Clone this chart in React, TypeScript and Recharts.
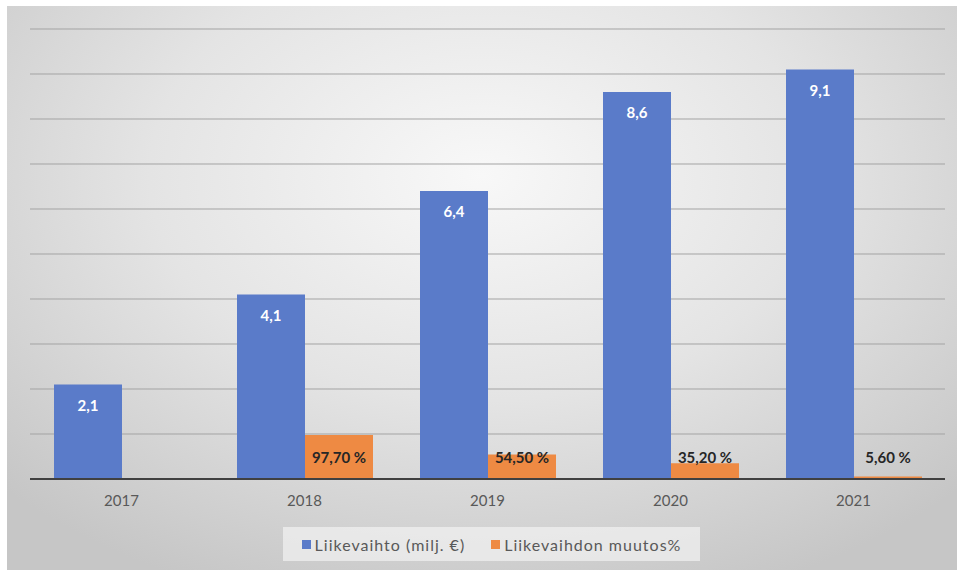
import { BarChart, Bar, XAxis, YAxis, CartesianGrid, LabelList } from 'recharts';

const years = ['2017', '2018', '2019', '2020', '2021'];
const revenue = [2.1, 4.1, 6.4, 8.6, 9.1];
const change = [null, 0.977, 0.545, 0.352, 0.056];
const yTicks = [0, 1, 2, 3, 4, 5, 6, 7, 8, 9, 10];

const data = years.map((year, i) => ({ year, revenue: revenue[i], change: change[i] }));

const FONT = 'Lato, "Open Sans", sans-serif';
const BLUE = '#5A7BC9';
const ORANGE = '#EE8A43';

const fmtRevenue = (v: number) => v.toFixed(1).replace('.', ',');
const fmtChange = (v: number) => (v * 100).toFixed(2).replace('.', ',') + ' %';

const RevenueLabel = (props: any) => {
  const { x, y, width, value } = props;
  if (value == null) return null;
  return (
    <text x={x + width / 2} y={y + 20} textAnchor="middle" dominantBaseline="central" fill="#ffffff" fontFamily={FONT} fontWeight={700} fontSize={15}>
      {fmtRevenue(value)}
    </text>
  );
};

const ChangeLabel = (props: any) => {
  const { x, y, width, height, value } = props;
  if (value == null) return null;
  return (
    <text x={x + width / 2} y={y + height - 22} textAnchor="middle" dominantBaseline="central" fill="#262626" fontFamily={FONT} fontWeight={700} fontSize={15}>
      {fmtChange(value)}
    </text>
  );
};

const LegendBox = () => (
  <div
    style={{
      position: 'absolute',
      left: 283,
      top: 527,
      width: 417,
      height: 34,
      background: 'rgba(242,242,242,0.7)',
      display: 'flex',
      alignItems: 'center',
      justifyContent: 'center',
      gap: 26,
      fontFamily: FONT,
      fontSize: 16,
      letterSpacing: 1,
      color: '#595959',
    }}
  >
    <span style={{ display: 'flex', alignItems: 'center' }}>
      <span style={{ width: 9, height: 9, background: BLUE, marginRight: 4 }} />
      Liikevaihto (milj. €)
    </span>
    <span style={{ display: 'flex', alignItems: 'center' }}>
      <span style={{ width: 9, height: 9, background: ORANGE, marginRight: 4 }} />
      Liikevaihdon muutos%
    </span>
  </div>
);

export default function App() {
  return (
    <div style={{ position: 'absolute', left: 0, top: 0, width: 957, height: 570, background: '#ffffff' }}>
      <div
        style={{
          position: 'absolute',
          left: 7,
          top: 6,
          width: 950,
          height: 564,
          background: 'radial-gradient(ellipse 70% 80% at 50% 30%, #f8f8f8 0%, #e4e4e4 50%, #c6c6c6 100%)',
        }}
      />
      <div style={{ position: 'absolute', left: 0, top: 0 }}>
        <BarChart
          width={957}
          height={570}
          data={data}
          margin={{ top: 29, right: 12, bottom: 61, left: 30 }}
          barGap={0}
          barSize={68}
        >
          <CartesianGrid vertical={false} stroke="#a3a3a3" strokeWidth={1} />
          <YAxis hide domain={[0, 10]} ticks={yTicks} />
          <XAxis
            dataKey="year"
            height={30}
            axisLine={{ stroke: '#404040', strokeWidth: 2 }}
            tickLine={false}
            tick={{ fill: '#595959', fontSize: 15, fontFamily: FONT }}
            tickMargin={10}
          />
          <Bar dataKey="revenue" fill={BLUE} isAnimationActive={false}>
            <LabelList dataKey="revenue" content={<RevenueLabel />} />
          </Bar>
          <Bar dataKey="change" fill={ORANGE} isAnimationActive={false}>
            <LabelList dataKey="change" content={<ChangeLabel />} />
          </Bar>
        </BarChart>
      </div>
      <LegendBox />
    </div>
  );
}
